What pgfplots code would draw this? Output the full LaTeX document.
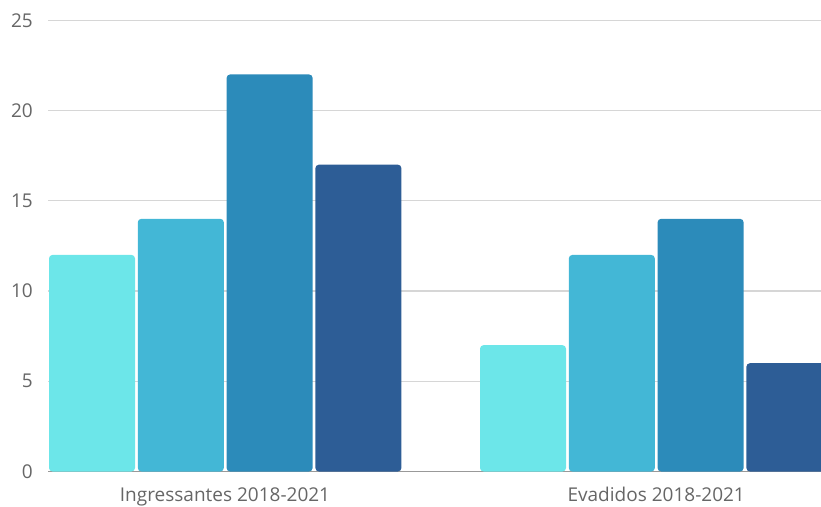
\documentclass[border=0pt]{standalone}
\usepackage{fontspec}
\setmainfont{Open Sans}
\usepackage{pgfplots}
\pgfplotsset{compat=1.18}
\definecolor{c1}{HTML}{6CE6E9}
\definecolor{c2}{HTML}{43B7D6}
\definecolor{c3}{HTML}{2C8BBA}
\definecolor{c4}{HTML}{2D5D96}
\definecolor{gridc}{HTML}{D6D6D6}
\definecolor{basec}{HTML}{999999}
\definecolor{labc}{HTML}{666666}
\begin{document}
\begin{tikzpicture}[x=1pt,y=1pt]
\useasboundingbox (0,0) rectangle (821,506);
\begin{axis}[
  at={(48pt,34.5pt)}, anchor=south west,
  scale only axis, width=773pt, height=451.2pt,
  xmin=48, xmax=821, ymin=0, ymax=25,
  axis x line=bottom, axis y line=left,
  x axis line style={draw=basec, line width=1.2pt, -},
  y axis line style={draw=none},
  major tick length=0pt,
  ytick={0,5,...,25},
  xtick={225,656.2},
  xticklabels={Ingressantes 2018-2021, Evadidos 2018-2021},
  ymajorgrids,
  grid style={draw=gridc, line width=1.2pt},
  ticklabel style={font=\fontsize{19}{22}\selectfont, text=labc},
  /pgf/number format/assume math mode=true,
  yticklabel style={anchor=east, inner sep=0pt, xshift=-15pt},
  xticklabel style={anchor=base, inner sep=0pt, yshift=-29.5pt},
  bar width=86, ybar, bar shift=0pt,
  clip=true,
]
\addplot[ybar, fill=c1, draw=none, rounded corners=3.5pt] coordinates {(92,12) (523,7)};
\addplot[ybar, fill=c2, draw=none, rounded corners=3.5pt] coordinates {(180.8,14) (611.8,12)};
\addplot[ybar, fill=c3, draw=none, rounded corners=3.5pt] coordinates {(269.6,22) (700.6,14)};
\addplot[ybar, fill=c4, draw=none, rounded corners=3.5pt] coordinates {(358.4,17) (789.4,6)};
\end{axis}
\end{tikzpicture}
\end{document}
